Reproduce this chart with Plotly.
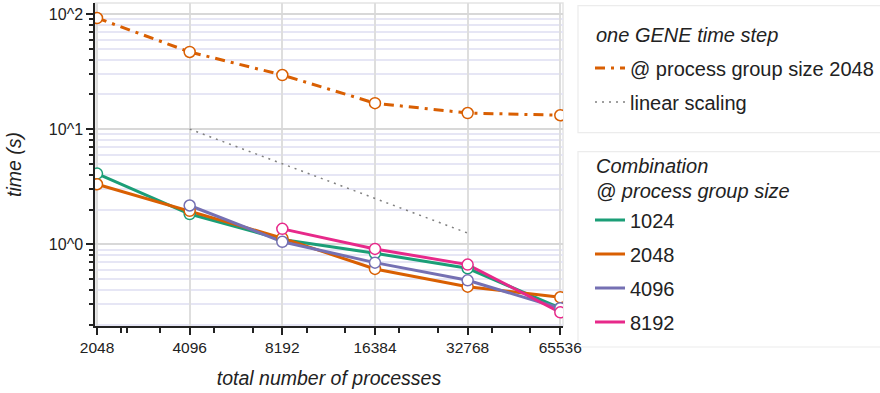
import plotly.graph_objects as go

# ---------------- data ----------------
processes = [2048, 4096, 8192, 16384, 32768, 65536]
x_tick_labels = ["2048", "4096", "8192", "16384", "32768", "65536"]

gene_step = [92.3, 46.8, 29.5, 16.8, 13.8, 13.2]

linear_x = [4096, 8192, 16384, 32768]
linear_y = [10.0, 5.0, 2.5, 1.25]

comb_names = ["1024", "2048", "4096", "8192"]
comb_x = {
    "1024": [2048, 4096, 8192, 16384, 32768, 65536],
    "2048": [2048, 4096, 8192, 16384, 32768, 65536],
    "4096": [4096, 8192, 16384, 32768, 65536],
    "8192": [8192, 16384, 32768, 65536],
}
comb_y = {
    "1024": [4.11, 1.83, 1.10, 0.835, 0.618, 0.278],
    "2048": [3.32, 1.95, 1.13, 0.61, 0.428, 0.346],
    "4096": [2.17, 1.05, 0.692, 0.486, 0.278],
    "8192": [1.36, 0.91, 0.665, 0.256],
}
comb_colors = {"1024": "#1b9e77", "2048": "#d95f02", "4096": "#7570b3", "8192": "#e7298a"}

y_tick_vals = [1, 10, 100]
y_tick_labels = ["10^0", "10^1", "10^2"]
y_minor_vals = [0.2, 0.3, 0.4, 0.5, 0.6, 0.7, 0.8, 0.9,
                2, 3, 4, 5, 6, 7, 8, 9,
                20, 30, 40, 50, 60, 70, 80, 90]
x_minor_vals = [2458, 2560, 3277, 4915, 6554, 9830, 13107,
                19661, 26214, 39322, 52429]

legend1_title = "one GENE time step"
legend2_title_lines = ["Combination", "@ process group size"]

FONT = "Liberation Sans, Arial, Helvetica, sans-serif"
ORANGE = "#d95f02"
LEG_FS = 20

fig = go.Figure()

# line traces (with legend entries)
fig.add_trace(go.Scatter(
    x=processes, y=gene_step, mode="lines", name="@ process group size 2048",
    line=dict(color=ORANGE, width=3, dash="10px,6px,3px,6px"),
    legend="legend", legendgroup="gene"))
fig.add_trace(go.Scatter(
    x=linear_x, y=linear_y, mode="lines", name="linear scaling",
    line=dict(color="#808080", width=1.5, dash="2px,5px"),
    legend="legend", legendgroup="lin"))
for n in comb_names:
    fig.add_trace(go.Scatter(
        x=comb_x[n], y=comb_y[n], mode="lines", name=n,
        line=dict(color=comb_colors[n], width=3),
        legend="legend2", legendgroup="c" + n))

# marker traces (no legend entries)
fig.add_trace(go.Scatter(
    x=processes, y=gene_step, mode="markers", showlegend=False,
    legendgroup="gene", hoverinfo="skip",
    marker=dict(symbol="circle", size=11, color="white",
                line=dict(color=ORANGE, width=1.5))))
for n in comb_names:
    fig.add_trace(go.Scatter(
        x=comb_x[n], y=comb_y[n], mode="markers", showlegend=False,
        legendgroup="c" + n, hoverinfo="skip",
        marker=dict(symbol="circle", size=11, color="white",
                    line=dict(color=comb_colors[n], width=1.5))))

L, R, T, B = 95, 317, 3, 67
W, H = 880, 393
pw, ph = W - L - R, H - T - B


def px_x(p):
    return (p - L) / pw


def px_y(p):
    return (H - B - p) / ph


legend_font = dict(size=LEG_FS, family=FONT, color="#222")
title_font = dict(size=LEG_FS, family=FONT, style="italic", color="#222")
axis_title_font = dict(size=19.5, family=FONT, style="italic", color="#222")

annotations = [
    dict(text=legend1_title, xref="paper", yref="paper",
         x=px_x(594), y=px_y(35), xanchor="left", yanchor="middle",
         showarrow=False, font=title_font, align="left"),
]
for i, line in enumerate(legend2_title_lines):
    annotations.append(dict(text=line, xref="paper", yref="paper",
                            x=px_x(594), y=px_y(166 + 24.7 * i),
                            xanchor="left", yanchor="middle",
                            showarrow=False, font=title_font, align="left"))

fig.update_layout(
    width=W, height=H,
    margin=dict(l=L, r=R, t=T, b=B, autoexpand=False),
    paper_bgcolor="white", plot_bgcolor="white",
    font=dict(family=FONT, color="#222", size=15),
    xaxis=dict(
        type="log", range=[3.30484, 4.82525],
        tickmode="array", tickvals=processes, ticktext=x_tick_labels,
        ticks="outside", ticklen=7, tickwidth=1.5, tickcolor="#222",
        showline=True, linecolor="#222", linewidth=1.5,
        showgrid=True, gridcolor="#dedede", gridwidth=1.5,
        zeroline=False,
        tickfont=dict(size=15.5, family=FONT, color="#222"),
        minor=dict(tickmode="array", tickvals=x_minor_vals, ticks="outside",
                   ticklen=5, tickwidth=1.5, tickcolor="#222", showgrid=False),
        title=dict(text="total number of processes", font=axis_title_font,
                   standoff=16),
    ),
    yaxis=dict(
        type="log", range=[-0.7104, 2.0957],
        tickmode="array", tickvals=y_tick_vals, ticktext=y_tick_labels,
        ticks="outside", ticklen=7, tickwidth=1.5, tickcolor="#222",
        showline=True, linecolor="#222", linewidth=1.5,
        showgrid=True, gridcolor="#d8d8d8", gridwidth=1.5,
        zeroline=False,
        tickfont=dict(size=16, family=FONT, color="#222"),
        minor=dict(tickmode="array", tickvals=y_minor_vals, ticks="outside",
                   ticklen=4, tickwidth=1.5, tickcolor="#222",
                   showgrid=True, gridcolor="#e6e6f5", gridwidth=1.5),
        title=dict(text="time (s)", font=axis_title_font, standoff=22),
    ),
    legend=dict(
        x=px_x(590), y=px_y(48.5), xanchor="left", yanchor="top",
        bgcolor="rgba(0,0,0,0)", borderwidth=0, font=legend_font,
        traceorder="grouped", tracegroupgap=5,
    ),
    legend2=dict(
        x=px_x(590), y=px_y(200.5), xanchor="left", yanchor="top",
        bgcolor="rgba(0,0,0,0)", borderwidth=0, font=legend_font,
        traceorder="grouped", tracegroupgap=5,
    ),
    annotations=annotations,
    shapes=[
        dict(type="rect", xref="paper", yref="paper", x0=0, x1=1, y0=0, y1=1,
             line=dict(color="#e3e3e3", width=1.5), layer="below"),
        dict(type="rect", xref="paper", yref="paper",
             x0=px_x(578), x1=px_x(900), y0=px_y(132.7), y1=px_y(5.7),
             line=dict(color="#ececec", width=1.2), fillcolor="white", layer="below"),
        dict(type="rect", xref="paper", yref="paper",
             x0=px_x(578), x1=px_x(900), y0=px_y(347), y1=px_y(151.7),
             line=dict(color="#ececec", width=1.2), fillcolor="white", layer="below"),
    ],
    showlegend=True,
)

fig.write_html("out.html", config={"displayModeBar": False},
               post_script="document.body.style.margin='0px';")
